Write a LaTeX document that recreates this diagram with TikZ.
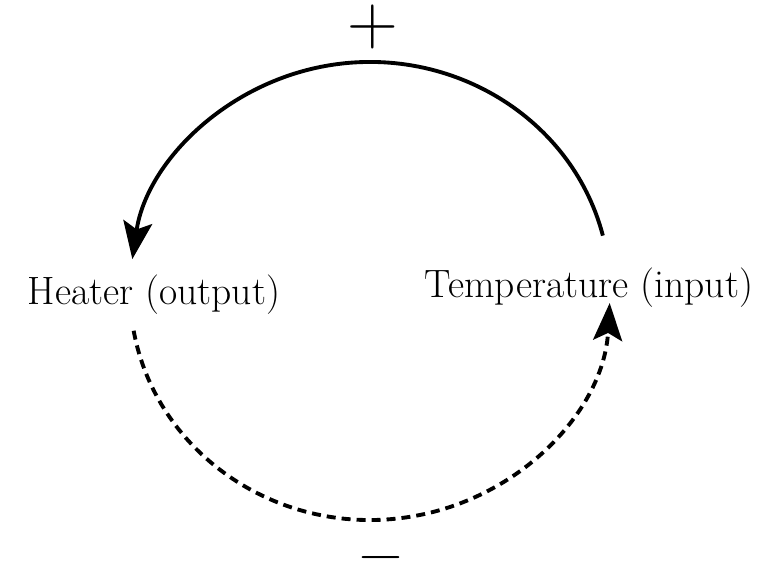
\documentclass[tikz,border=0pt]{standalone}
\usepackage{fontspec}
\usepackage{tikz}
\usetikzlibrary{arrows.meta}
\tikzset{
  looplabel/.style={font=\fontsize{22.5}{27}\selectfont, inner sep=0pt},
  signlabel/.style={font=\fontsize{40}{44}\selectfont, inner sep=0pt},
  loopline/.style={line width=2.2pt, -{Stealth[length=7.5mm, width=5.8mm, inset=1.5mm]}},
  dashline/.style={loopline, dash pattern=on 1.8mm off 1.2mm},
}

\begin{document}
\begin{tikzpicture}
    \useasboundingbox (0,0) rectangle (15.18,11.48);
    \coordinate (c) at (7.40, 5.66);
    \node[looplabel] (heater) at (3.08, 5.58) {Heater (output)};
    \node[looplabel] (temp) at (11.78, 5.72) {Temperature (input)};
    \node[signlabel] (plus) at (7.46, 10.94) {+};
    \node[signlabel, font=\fontsize{34}{38}\selectfont, anchor=south] (minus) at (7.62, 0.02) {−};
    % outer arcs of the loop
    \coordinate (topstart) at ([shift={(14:4.8 and 4.58)}]c);
    \coordinate (botstart) at ([shift={(190:4.8 and 4.58)}]c);
    \draw[loopline] (topstart) arc[start angle=14, end angle=172, x radius=4.8, y radius=4.58];
    \draw[dashline] (botstart) arc[start angle=190, end angle=357, x radius=4.8, y radius=4.58];
  \end{tikzpicture}
\end{document}
